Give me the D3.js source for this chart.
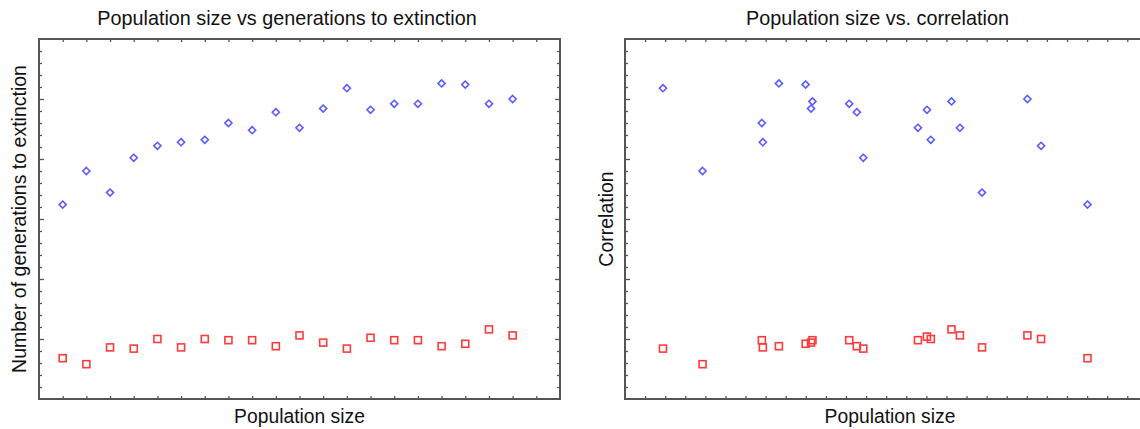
<!DOCTYPE html>
<html>
<head>
<meta charset="utf-8">
<script src="https://cdn.jsdelivr.net/npm/d3@7"></script>
<style>
  body { margin: 0; background: #fff; }
  text { font-family: "Liberation Sans", Arial, sans-serif; fill: #111; }
  .frame { fill: none; stroke: #555; stroke-width: 2; }
  .ticks line { stroke: #555; stroke-width: 1.3; }
  .ticks path { display: none; }
</style>
</head>
<body>
<div id="chart"></div>
<script>
// left panel: points are evenly spaced population sizes (index 1..20)
const genIndex = d3.range(1, 21);
const genExtinction = [16.2, 19.0, 17.2, 20.1, 21.1, 21.4, 21.6, 23.0, 22.4, 23.9,
                       22.6, 24.2, 25.9, 24.1, 24.6, 24.6, 26.3, 26.2, 24.6, 25.0];
const genOther = [3.4, 2.9, 4.3, 4.2, 5.0, 4.3, 5.0, 4.9, 4.9, 4.4,
                  5.3, 4.7, 4.2, 5.1, 4.9, 4.9, 4.4, 4.6, 5.8, 5.3];

// right panel: same runs placed by correlation
const corrX = [1.89, 3.86, 6.81, 6.86, 7.66, 8.99, 9.33, 9.26, 11.16, 11.54,
               11.86, 14.58, 15.03, 15.22, 16.25, 16.67, 17.77, 20.03, 20.71, 23.02];
const corrBlue = [25.9, 19.0, 23.0, 21.4, 26.3, 26.2, 24.8, 24.2, 24.6, 23.9,
                  20.1, 22.6, 24.1, 21.6, 24.8, 22.6, 17.2, 25.0, 21.1, 16.2];
const corrRed = [4.2, 2.9, 4.9, 4.3, 4.4, 4.6, 4.9, 4.7, 4.9, 4.4,
                 4.2, 4.9, 5.2, 5.0, 5.8, 5.3, 4.3, 5.3, 5.0, 3.4];

const titles = ["Population size vs generations to extinction", "Population size vs. correlation"];
const xLabels = ["Population size", "Population size"];
const yLabels = ["Number of generations to extinction", "Correlation"];

const width = 1140, height = 429;
const plotTop = 39, plotBottom = 399;

const svg = d3.select("#chart").append("svg")
    .attr("width", width)
    .attr("height", height);

const panels = [
    { x0: 39, x1: 560, xMax: 22, xTicks: d3.range(1, 22), xs: genIndex,
      blue: genExtinction, red: genOther, title: titles[0], xLabel: xLabels[0], yLabel: yLabels[0], yLabelX: 19 },
    { x0: 625, x1: 1155, xMax: 26.38, xTicks: d3.range(1, 27), xs: corrX,
      blue: corrBlue, red: corrRed, title: titles[1], xLabel: xLabels[1], yLabel: yLabels[1], yLabelX: 606 }
];

function drawPanel(p) {
    const g = svg.append("g");
    const x = d3.scaleLinear().domain([0, p.xMax]).range([p.x0, p.x1]);
    const y = d3.scaleLinear().domain([0, 30]).range([plotBottom, plotTop]);

    const minor = d3.range(1, 30).filter(v => v % 5 !== 0);
    const major = [5, 10, 15, 20, 25];

    // inward ticks on all four sides
    g.append("g").attr("class", "ticks").attr("transform", `translate(0,${plotBottom})`)
        .call(d3.axisBottom(x).tickValues(p.xTicks).tickSize(-3).tickFormat(""));
    g.append("g").attr("class", "ticks").attr("transform", `translate(0,${plotTop})`)
        .call(d3.axisTop(x).tickValues(p.xTicks).tickSize(-3).tickFormat(""));
    g.append("g").attr("class", "ticks").attr("transform", `translate(${p.x0},0)`)
        .call(d3.axisLeft(y).tickValues(minor).tickSize(-3).tickFormat(""));
    g.append("g").attr("class", "ticks").attr("transform", `translate(${p.x0},0)`)
        .call(d3.axisLeft(y).tickValues(major).tickSize(-5).tickFormat(""));
    g.append("g").attr("class", "ticks").attr("transform", `translate(${p.x1},0)`)
        .call(d3.axisRight(y).tickValues(minor).tickSize(-3).tickFormat(""));
    g.append("g").attr("class", "ticks").attr("transform", `translate(${p.x1},0)`)
        .call(d3.axisRight(y).tickValues(major).tickSize(-5).tickFormat(""));

    g.append("rect").attr("class", "frame")
        .attr("x", p.x0).attr("y", plotTop)
        .attr("width", p.x1 - p.x0).attr("height", plotBottom - plotTop);

    const cx = (p.x0 + p.x1) / 2;
    g.append("text").attr("x", cx - 12.5).attr("y", 25)
        .attr("text-anchor", "middle").style("font-size", "19.8px").text(p.title);
    g.append("text").attr("x", cx).attr("y", 423)
        .attr("text-anchor", "middle").style("font-size", "19.3px").text(p.xLabel);
    g.append("text")
        .attr("transform", `translate(${p.yLabelX},${(plotTop + plotBottom) / 2}) rotate(-90)`)
        .attr("text-anchor", "middle").attr("dy", "0.35em")
        .style("font-size", "19.5px").text(p.yLabel);

    // red squares
    g.selectAll(".sq").data(p.red).join("rect")
        .attr("class", "sq")
        .attr("x", (d, i) => x(p.xs[i]) - 3.5)
        .attr("y", d => y(d) - 3.5)
        .attr("width", 7).attr("height", 7)
        .attr("fill", "none").attr("stroke", "#ff3a3a").attr("stroke-width", 1.6);

    // blue diamonds
    const diamond = d3.symbol().type(d3.symbolDiamond2).size(32);
    g.selectAll(".dm").data(p.blue).join("path")
        .attr("class", "dm")
        .attr("d", diamond)
        .attr("transform", (d, i) => `translate(${x(p.xs[i])},${y(d)})`)
        .attr("fill", "none").attr("stroke", "#5a5aff").attr("stroke-width", 1.6);
}

panels.forEach(drawPanel);
</script>
</body>
</html>
